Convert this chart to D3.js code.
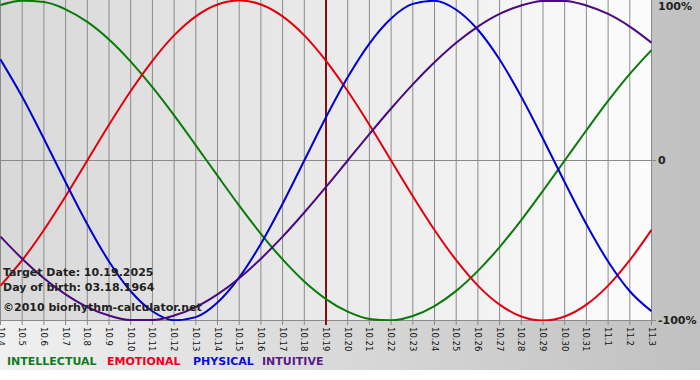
<!DOCTYPE html>
<html>
<head>
<meta charset="utf-8">
<script src="https://cdn.jsdelivr.net/npm/d3@7"></script>
<style>
    body { margin: 0; background: #fff; }
    svg { display: block; }
    .tick-label { font-family: "DejaVu Sans", Verdana, sans-serif; font-size: 8.5px; fill: #111; }
    .pct { font-family: "DejaVu Sans", Verdana, sans-serif; font-size: 11px; font-weight: bold; fill: #222; }
    .info { font-family: "DejaVu Sans", Verdana, sans-serif; font-size: 11px; font-weight: bold; fill: #222; }
    .legend { font-family: "DejaVu Sans", Verdana, sans-serif; font-size: 11px; font-weight: bold; }
</style>
</head>
<body>
<div id="chart"></div>
<script>
// days shown on the x axis
var dates = ['10.4', '10.5', '10.6', '10.7', '10.8', '10.9', '10.10', '10.11', '10.12', '10.13',
    '10.14', '10.15', '10.16', '10.17', '10.18', '10.19', '10.20', '10.21', '10.22', '10.23',
    '10.24', '10.25', '10.26', '10.27', '10.28', '10.29', '10.30', '10.31', '11.1', '11.2', '11.3'];

var targetDate = '10.19';

// cycle values per day, -1 .. 1
var intellectual = [0.972, 0.999, 0.990, 0.945, 0.866, 0.756, 0.618, 0.458, 0.282, 0.095,
    -0.095, -0.282, -0.458, -0.618, -0.756, -0.866, -0.945, -0.990, -0.999, -0.972,
    -0.910, -0.815, -0.690, -0.541, -0.372, -0.189, 0, 0.189, 0.372, 0.541, 0.690];

var emotional = [-0.782, -0.623, -0.434, -0.223, 0, 0.223, 0.434, 0.623, 0.782, 0.901,
    0.975, 1.0, 0.975, 0.901, 0.782, 0.623, 0.434, 0.223, 0, -0.223,
    -0.434, -0.623, -0.782, -0.901, -0.975, -1.0, -0.975, -0.901, -0.782, -0.623, -0.434];

var physical = [0.631, 0.398, 0.136, -0.136, -0.398, -0.631, -0.817, -0.942, -0.998, -0.979,
    -0.888, -0.731, -0.520, -0.270, 0, 0.270, 0.520, 0.731, 0.888, 0.979,
    0.998, 0.942, 0.817, 0.631, 0.398, 0.136, -0.136, -0.398, -0.631, -0.817, -0.942];

var intuitive = [-0.476, -0.614, -0.736, -0.837, -0.916, -0.969, -0.997, -0.997, -0.969, -0.916,
    -0.837, -0.736, -0.614, -0.476, -0.325, -0.165, 0, 0.165, 0.325, 0.476,
    0.614, 0.736, 0.837, 0.916, 0.969, 0.997, 0.997, 0.969, 0.916, 0.837, 0.736];

var yTicks = [1, 0, -1];
var yTickLabels = ['100%', '0', '-100%'];

var series = [
    {name: 'INTELLECTUAL', values: intellectual, color: '#0a7a0a', legendColor: '#0f7a1f', lx: 7},
    {name: 'EMOTIONAL', values: emotional, color: '#e00010', legendColor: '#f0001c', lx: 107},
    {name: 'PHYSICAL', values: physical, color: '#0000d0', legendColor: '#0a10d8', lx: 193},
    {name: 'INTUITIVE', values: intuitive, color: '#4a0a80', legendColor: '#5a1a86', lx: 262}
];

var width = 700;
var height = 380;
var plotRight = 651;
var plotBottom = 321;

var svg = d3.select('#chart')
    .append('svg')
    .attr('width', width)
    .attr('height', height);

var defs = svg.append('defs');

var outerGrad = defs.append('linearGradient').attr('id', 'outerGrad');
outerGrad.append('stop').attr('offset', '0%').attr('stop-color', '#f0f0f0');
outerGrad.append('stop').attr('offset', '100%').attr('stop-color', '#c0c0c0');

var plotGrad = defs.append('linearGradient').attr('id', 'plotGrad');
plotGrad.append('stop').attr('offset', '0%').attr('stop-color', '#d8d8d8');
plotGrad.append('stop').attr('offset', '100%').attr('stop-color', '#fcfcfc');

defs.append('clipPath').attr('id', 'plotClip')
    .append('rect')
    .attr('x', 0).attr('y', 0)
    .attr('width', plotRight + 1).attr('height', plotBottom);

svg.append('rect')
    .attr('width', width)
    .attr('height', 370)
    .attr('fill', 'url(#outerGrad)');

svg.append('rect')
    .attr('width', plotRight)
    .attr('height', plotBottom)
    .attr('fill', 'url(#plotGrad)');

var xScale = d3.scalePoint()
    .domain(dates)
    .range([0.5, plotRight + 0.5]);

var yScale = d3.scaleLinear()
    .domain([-1, 1])
    .range([plotBottom - 0.5, 0.5]);

// vertical day lines, run a few px below the plot as ticks
svg.append('g')
    .selectAll('line')
    .data(dates)
    .enter()
    .append('line')
    .attr('x1', function (d) { return xScale(d); })
    .attr('x2', function (d) { return xScale(d); })
    .attr('y1', 0)
    .attr('y2', plotBottom + 4)
    .attr('stroke', '#8a8a8a')
    .attr('stroke-width', 1);

svg.append('g')
    .selectAll('line')
    .data(yTicks.slice(1))
    .enter()
    .append('line')
    .attr('x1', 0)
    .attr('x2', plotRight + 5)
    .attr('y1', function (d) { return yScale(d); })
    .attr('y2', function (d) { return yScale(d); })
    .attr('stroke', '#8a8a8a')
    .attr('stroke-width', 1);

svg.append('g')
    .selectAll('text')
    .data(dates)
    .enter()
    .append('text')
    .attr('class', 'tick-label')
    .attr('transform', function (d) {
        return 'translate(' + xScale(d) + ',' + (plotBottom + 6) + ') rotate(90)';
    })
    .attr('dy', '0.35em')
    .text(function (d) { return d; });

svg.append('g')
    .selectAll('text')
    .data(yTicks)
    .enter()
    .append('text')
    .attr('class', 'pct')
    .attr('x', plotRight + 7)
    .attr('y', function (d) { return yScale(d); })
    .attr('dy', function (d) { return d === 1 ? '0.85em' : '0.35em'; })
    .text(function (d, i) { return yTickLabels[i]; });

// target day marker
svg.append('line')
    .attr('x1', xScale(targetDate))
    .attr('x2', xScale(targetDate))
    .attr('y1', 0)
    .attr('y2', plotBottom + 4)
    .attr('stroke', '#801010')
    .attr('stroke-width', 2);

var line = d3.line()
    .x(function (d, i) { return xScale(dates[i]); })
    .y(function (d) { return yScale(d); })
    .curve(d3.curveMonotoneX);

svg.append('g')
    .attr('clip-path', 'url(#plotClip)')
    .selectAll('path')
    .data(series)
    .enter()
    .append('path')
    .attr('d', function (s) { return line(s.values); })
    .attr('fill', 'none')
    .attr('stroke', function (s) { return s.color; })
    .attr('stroke-width', 2);

svg.append('text').attr('class', 'info').attr('x', 3).attr('y', 276).text('Target Date: 10.19.2025');
svg.append('text').attr('class', 'info').attr('x', 3).attr('y', 291).text('Day of birth: 03.18.1964');
svg.append('text').attr('class', 'info').attr('x', 3).attr('y', 311).text('\u00a92010 biorhythm-calculator.net');

svg.append('g')
    .selectAll('text')
    .data(series)
    .enter()
    .append('text')
    .attr('class', 'legend')
    .attr('x', function (s) { return s.lx; })
    .attr('y', 365)
    .attr('fill', function (s) { return s.legendColor; })
    .text(function (s) { return s.name; });
</script>
</body>
</html>
